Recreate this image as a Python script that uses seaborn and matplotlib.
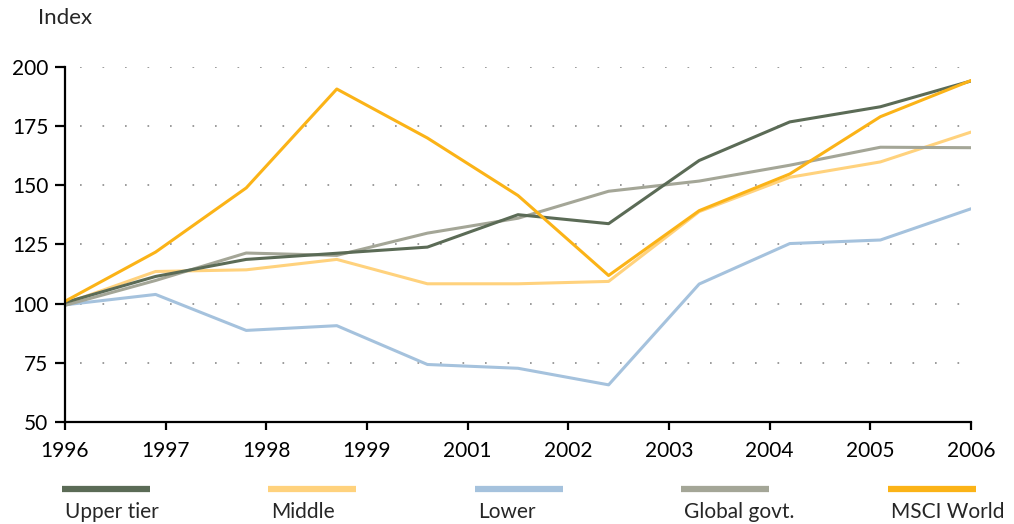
import matplotlib
matplotlib.use("Agg")
import matplotlib.pyplot as plt
from matplotlib.lines import Line2D
import numpy as np
import pandas as pd
import seaborn as sns

# 11 observation points, evenly spaced along the axis
obs = list(range(11))

upper_tier = [100.5, 111.5, 118.7, 121.3, 123.9, 137.6, 133.8, 160.5, 176.8, 183.2, 194.1]
middle = [100.0, 113.6, 114.3, 118.7, 108.4, 108.4, 109.4, 138.9, 153.4, 159.9, 172.5]
lower = [99.5, 103.9, 88.7, 90.7, 74.3, 72.7, 65.7, 108.3, 125.4, 126.9, 140.1]
global_govt = [99.3, 109.8, 121.4, 120.4, 129.8, 136.1, 147.5, 151.8, 158.5, 166.1, 165.9]
msci_world = [101.0, 121.8, 148.9, 190.7, 170.0, 145.7, 111.9, 139.3, 154.8, 179.0, 194.3]

series_names = ["Upper tier", "Middle", "Lower", "Global govt.", "MSCI World"]
series_colors = ["#5b6b56", "#ffd27d", "#a5c2dd", "#a4a697", "#fbb317"]

year_labels = ["1996", "1997", "1998", "1999", "2001", "2002", "2003", "2004", "2005", "2006"]
y_ticks = [50, 75, 100, 125, 150, 175, 200]

df = pd.DataFrame({
    "obs": obs * 5,
    "value": upper_tier + middle + lower + global_govt + msci_world,
    "series": sum([[n] * len(obs) for n in series_names], []),
})

sns.set_style("white")
plt.rcParams["font.family"] = ["Lato", "DejaVu Sans"]

fig = plt.figure(figsize=(10.14, 5.24), dpi=100)
ax = fig.add_axes([65 / 1014, 1 - 422 / 524, (971 - 65) / 1014, (422 - 67) / 524])

draw_order = ["Lower", "Middle", "Global govt.", "Upper tier", "MSCI World"]
palette = dict(zip(series_names, series_colors))
sns.lineplot(data=df, x="obs", y="value", hue="series", hue_order=draw_order,
             palette=palette, linewidth=2.2, ax=ax, legend=False)

ax.set_xlim(0, 10)
ax.set_ylim(50, 200)
ax.set_xticks(np.linspace(0, 10, len(year_labels)))
ax.set_xticklabels(year_labels)
ax.set_yticks(y_ticks)
ax.set_xlabel("")
ax.set_ylabel("")

for side in ["top", "right"]:
    ax.spines[side].set_visible(False)
for side in ["left", "bottom"]:
    ax.spines[side].set_color("black")
    ax.spines[side].set_linewidth(1.6)

ax.tick_params(axis="y", direction="out", length=7, width=1.6, pad=5, labelsize=15, colors="black")
ax.tick_params(axis="x", direction="out", length=6, width=1.6, pad=8, labelsize=15, colors="black")
ax.tick_params(left=True, bottom=True)

# dotted grid
for yv in y_ticks[1:]:
    ax.axhline(yv, xmin=0.017, xmax=1.0, color="#8a8a8a", linewidth=1.2,
               linestyle=(0, (1, 12.5)), zorder=0)

fig.text(38 / 1014, 1 - 18 / 524, "Index", fontsize=16, va="center", ha="left")

# legend: swatch above label
starts = [62, 268, 475, 681, 888]
for name, color, x0 in zip(series_names, series_colors, starts):
    fig.lines.append(Line2D([x0 / 1014, (x0 + 88) / 1014], [1 - 489 / 524, 1 - 489 / 524],
                            color=color, linewidth=4.5, transform=fig.transFigure,
                            solid_capstyle="butt"))
    fig.text((x0 + 3) / 1014, 1 - 512 / 524, name, fontsize=15, va="center", ha="left")

fig.savefig("out.png", dpi=100)
